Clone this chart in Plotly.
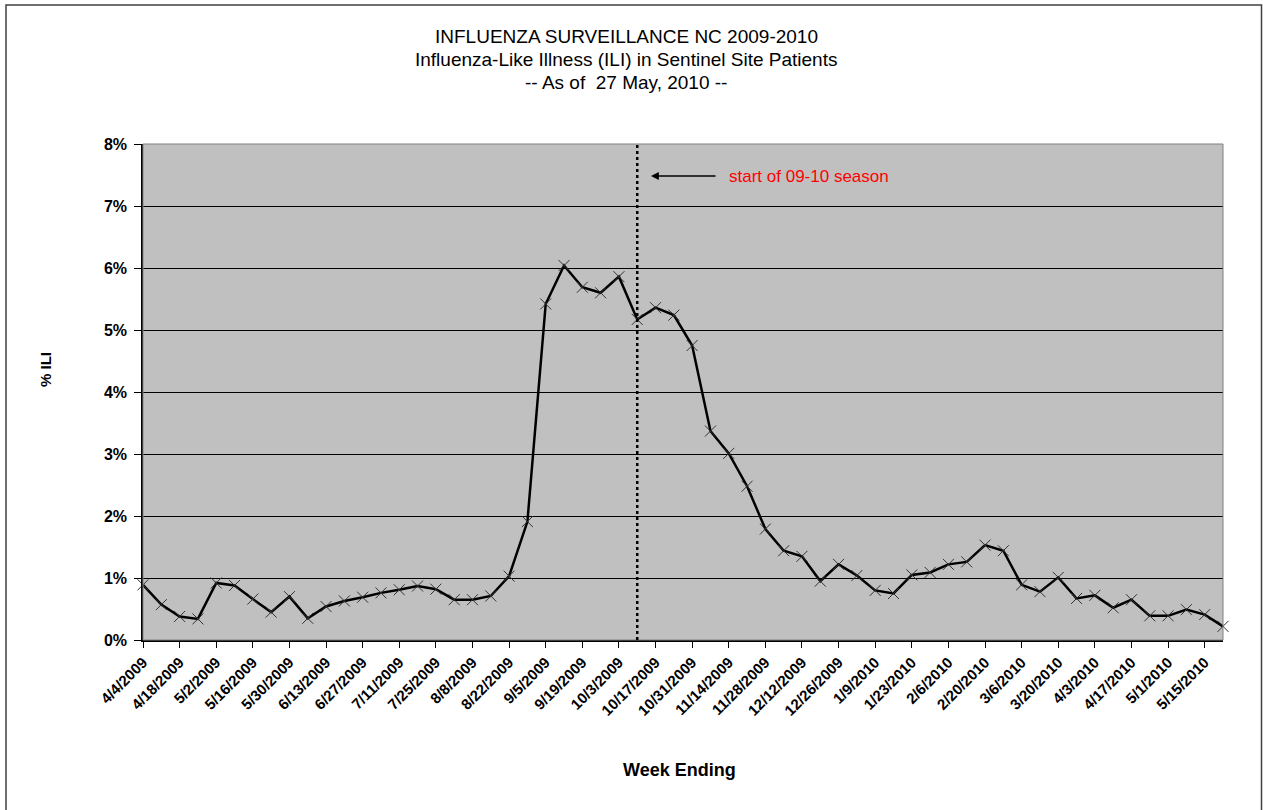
import pandas as pd
import plotly.graph_objects as go

# ---- data ----
week_ending = pd.date_range("2009-04-04", periods=60, freq="7D")
ili_pct = [0.89, 0.57, 0.38, 0.34, 0.92, 0.88, 0.66, 0.45, 0.70, 0.35,
           0.54, 0.63, 0.69, 0.76, 0.81, 0.87, 0.82, 0.65, 0.65, 0.71,
           1.03, 1.91, 5.42, 6.04, 5.69, 5.60, 5.86, 5.17, 5.36, 5.24,
           4.75, 3.37, 3.01, 2.48, 1.79, 1.44, 1.35, 0.95, 1.22, 1.04,
           0.80, 0.75, 1.05, 1.09, 1.22, 1.26, 1.53, 1.44, 0.89, 0.78,
           1.01, 0.67, 0.72, 0.52, 0.65, 0.39, 0.39, 0.49, 0.41, 0.22]
tick_labels = ["4/4/2009", "4/18/2009", "5/2/2009", "5/16/2009", "5/30/2009",
               "6/13/2009", "6/27/2009", "7/11/2009", "7/25/2009", "8/8/2009",
               "8/22/2009", "9/5/2009", "9/19/2009", "10/3/2009", "10/17/2009",
               "10/31/2009", "11/14/2009", "11/28/2009", "12/12/2009", "12/26/2009",
               "1/9/2010", "1/23/2010", "2/6/2010", "2/20/2010", "3/6/2010",
               "3/20/2010", "4/3/2010", "4/17/2010", "5/1/2010", "5/15/2010"]
tick_dates = [pd.Timestamp(t) for t in tick_labels]
y_ticks = [0, 1, 2, 3, 4, 5, 6, 7, 8]
season_start = pd.Timestamp("2009-10-10")

title_lines = ["INFLUENZA SURVEILLANCE NC 2009-2010",
               "Influenza-Like Illness (ILI) in Sentinel Site Patients",
               "-- As of  27 May, 2010 --"]

# ---- layout geometry (pixels) ----
W, H = 1263, 810
L, R, T, B = 143, 40, 144, 170
pw, ph = W - L - R, H - T - B
def px(x):
    return (x - L) / pw
def py(y):
    return (H - B - y) / ph

FONT = "Liberation Sans, Arial, sans-serif"

fig = go.Figure()
fig.add_trace(go.Scatter(
    x=week_ending, y=ili_pct, mode="lines+markers",
    line=dict(color="black", width=2.5),
    marker=dict(symbol="x-thin", size=11, line=dict(color="#333333", width=1)),
    cliponaxis=False, showlegend=False, hoverinfo="x+y"))

shapes = [
    # outer chart frame
    dict(type="rect", xref="paper", yref="paper", x0=px(6), x1=px(1261.5),
         y0=py(830), y1=py(5), line=dict(color="#404040", width=1.5), layer="below"),
    # plot area border
    dict(type="rect", xref="paper", yref="paper", x0=0, x1=1, y0=0, y1=1,
         line=dict(color="#808080", width=1), layer="above"),
    # season start line
    dict(type="line", xref="x", yref="paper", x0=season_start, x1=season_start,
         y0=0, y1=1, line=dict(color="black", width=2.5, dash="dot")),
]

annotations = []
for txt, yy in zip(title_lines, [37, 60, 83]):
    annotations.append(dict(text=txt, xref="paper", yref="paper", x=px(626), y=py(yy),
                            showarrow=False, xanchor="center", yanchor="middle",
                            font=dict(family=FONT, size=19, color="black")))
annotations.append(dict(text="", xref="paper", yref="paper", x=px(651), y=py(176),
                        ax=66, ay=0, showarrow=True, arrowhead=2, arrowsize=1.2,
                        arrowwidth=1.3, arrowcolor="black"))
annotations.append(dict(text="start of 09-10 season", xref="paper", yref="paper",
                        x=px(727), y=py(176), xanchor="left", yanchor="middle",
                        showarrow=False, font=dict(family=FONT, size=17, color="#ff0000")))
annotations.append(dict(text="<b>% ILI</b>", xref="paper", yref="paper", x=px(45), y=py(370),
                        textangle=-90, showarrow=False, xanchor="center", yanchor="middle",
                        font=dict(family=FONT, size=15, color="black")))
annotations.append(dict(text="<b>Week Ending</b>", xref="paper", yref="paper", x=px(679), y=py(770),
                        showarrow=False, xanchor="center", yanchor="middle",
                        font=dict(family=FONT, size=18, color="black")))

fig.update_layout(
    width=W, height=H, margin=dict(l=L, r=R, t=T, b=B, autoexpand=False),
    paper_bgcolor="white", plot_bgcolor="#c0c0c0",
    font=dict(family=FONT, color="black"),
    shapes=shapes, annotations=annotations,
    xaxis=dict(type="date", range=[week_ending[0], week_ending[-1]],
               tickvals=tick_dates, ticktext=["<b>%s</b>" % t for t in tick_labels],
               tickangle=-45, ticks="outside", ticklen=6, tickcolor="black",
               showgrid=False, showline=True, linecolor="black", linewidth=1.5,
               tickfont=dict(family=FONT, size=15, color="black"), zeroline=False),
    yaxis=dict(range=[0, 8], tickvals=y_ticks,
               ticktext=["<b>%d%%</b>" % v for v in y_ticks],
               ticks="outside", ticklen=7, tickcolor="black", ticklabelstandoff=4,
               showgrid=True, gridcolor="black", gridwidth=1,
               showline=True, linecolor="black", linewidth=1.5,
               tickfont=dict(family=FONT, size=16, color="black"), zeroline=False),
)

fig.write_html("out.html", config={"displayModeBar": False},
               post_script="document.body.style.margin='0';document.body.style.overflow='hidden';")
